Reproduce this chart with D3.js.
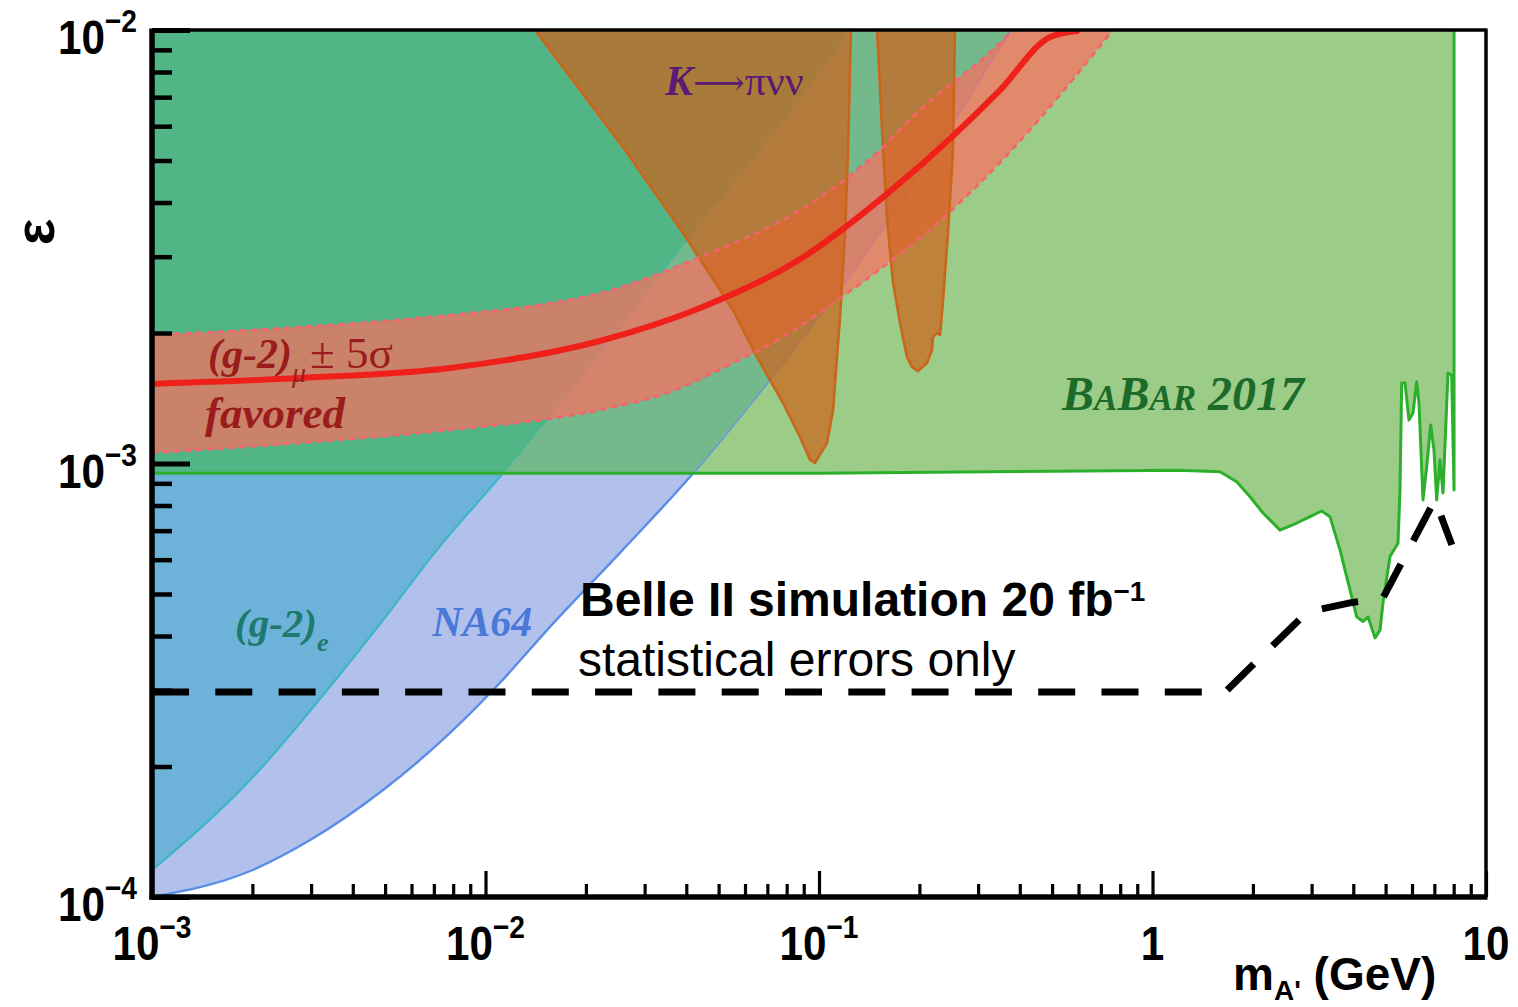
<!DOCTYPE html>
<html><head><meta charset="utf-8">
<script src="https://cdn.jsdelivr.net/npm/d3@7"></script>
<style>html,body{margin:0;padding:0;background:#fff;} svg{display:block;}</style>
</head><body>
<svg id="chart" width="1518" height="1007"></svg>
<script>
// ---------------- data (mass in GeV, epsilon) ----------------
const babarMass = [0.001, 0.1, 0.5, 1.2, 1.594, 1.789, 1.961, 2.145, 2.412, 2.706, 2.967, 3.217, 3.405, 3.649, 3.910, 4.096, 4.278, 4.429, 4.648, 4.811, 4.911, 5.153, 5.446, 5.522, 5.587, 5.716, 5.875, 6.04, 6.197, 6.296, 6.473, 6.64, 6.826, 6.984, 7.115, 7.279, 7.431, 7.692, 7.89, 8.02];
const babarEps  = [9.5e-4, 9.5e-4, 9.6e-4, 9.65e-4, 9.57e-4, 9.08e-4, 8.38e-4, 7.69e-4, 7.02e-4, 7.29e-4, 7.54e-4, 7.77e-4, 7.54e-4, 6.32e-4, 5.11e-4, 4.43e-4, 4.32e-4, 4.43e-4, 3.96e-4, 4.13e-4, 4.77e-4, 6.10e-4, 6.55e-4, 8.69e-4, 1.534e-3, 1.534e-3, 1.26e-3, 1.307e-3, 1.544e-3, 1.379e-3, 8.24e-4, 9.83e-4, 1.227e-3, 1.074e-3, 8.24e-4, 1.019e-3, 8.55e-4, 1.617e-3, 1.6e-3, 8.69e-4];

const na64Mass = [0.001, 0.00197, 0.00298, 0.00493, 0.00783, 0.01105, 0.01561, 0.0258, 0.0410, 0.0699, 0.1265, 0.2228, 0.3739];
const na64Eps  = [1.0e-4, 1.148e-4, 1.353e-4, 1.765e-4, 2.39e-4, 3.12e-4, 4.20e-4, 6.32e-4, 9.31e-4, 1.534e-3, 2.79e-3, 5.29e-3, 1.0e-2];

const g2eMass = [0.001, 0.00197, 0.00335, 0.00493, 0.00715, 0.01129, 0.0216, 0.0391, 0.0666, 0.1213, 0.1230];
const g2eEps  = [1.154e-4, 1.862e-4, 3.0e-4, 4.355e-4, 6.32e-4, 9.51e-4, 1.76e-3, 3.19e-3, 5.29e-3, 9.84e-3, 1.0e-2];

const kpnn1Mass = [0.01407, 0.0262, 0.0391, 0.0552, 0.0652, 0.0780, 0.0877, 0.0940, 0.0973, 0.1057, 0.1102, 0.1156, 0.1197, 0.1222, 0.1247];
const kpnn1Eps  = [1.0e-2, 5.29e-3, 3.40e-3, 2.26e-3, 1.76e-3, 1.379e-3, 1.151e-3, 1.019e-3, 1.003e-3, 1.115e-3, 1.328e-3, 2.18e-3, 3.40e-3, 5.29e-3, 1.0e-2];
const kpnn2Mass = [0.1493, 0.1556, 0.1599, 0.1667, 0.1750, 0.1836, 0.1901, 0.1981, 0.2108, 0.2182, 0.2197, 0.2259, 0.2306, 0.2355, 0.2436, 0.2522, 0.2557];
const kpnn2Eps  = [1.0e-2, 5.29e-3, 3.70e-3, 2.61e-3, 2.11e-3, 1.76e-3, 1.67e-3, 1.634e-3, 1.705e-3, 1.827e-3, 1.96e-3, 2.00e-3, 1.98e-3, 2.38e-3, 3.40e-3, 5.29e-3, 1.0e-2];

const g2muMass = [0.001, 0.00278, 0.00783, 0.0220, 0.0440, 0.0877, 0.175, 0.349, 0.493, 0.594];
const g2muEps  = [1.526e-3, 1.575e-3, 1.661e-3, 1.917e-3, 2.285e-3, 2.96e-3, 4.44e-3, 7.27e-3, 9.63e-3, 9.95e-3];
const g2muHiMass = [0.001, 0.00278, 0.00783, 0.01561, 0.0220, 0.0440, 0.0877, 0.1524, 0.1967, 0.3489, 0.3817];
const g2muHiEps  = [1.98e-3, 2.065e-3, 2.20e-3, 2.345e-3, 2.47e-3, 2.996e-3, 3.84e-3, 5.29e-3, 6.44e-3, 9.33e-3, 1.0e-2];
const g2muLoMass = [0.001, 0.00278, 0.00783, 0.0220, 0.0350, 0.0552, 0.0780, 0.1102, 0.1556, 0.2197, 0.3612, 0.7613];
const g2muLoEps  = [1.057e-3, 1.115e-3, 1.195e-3, 1.328e-3, 1.454e-3, 1.705e-3, 1.96e-3, 2.345e-3, 2.84e-3, 3.51e-3, 5.09e-3, 1.0e-2];

const belleMass = [0.001, 1.65, 2.906, 3.91, 4.91, 7.03, 7.9];
const belleEps  = [2.97e-4, 2.97e-4, 4.54e-4, 4.77e-4, 4.9e-4, 8.24e-4, 6.49e-4];

const xMajorTicks = [1e-3, 1e-2, 1e-1, 1, 10];
const xTickBase = ["10", "10", "10", "1", "10"];
const xTickExp  = ["−3", "−2", "−1", "", ""];
const yMajorTicks = [1e-4, 1e-3, 1e-2];
const yTickBase = ["10", "10", "10"];
const yTickExp  = ["−4", "−3", "−2"];
const decadeMult = [2, 3, 4, 5, 6, 7, 8, 9];

// ---------------- setup ----------------
const L = 152, R = 1486, T = 30, B = 897;
const x = d3.scaleLog().domain([1e-3, 10]).range([L, R]);
const y = d3.scaleLog().domain([1e-4, 1e-2]).range([B, T]);
const svg = d3.select('#chart');
const defs = svg.append('defs');
defs.append('clipPath').attr('id', 'plot').append('rect')
  .attr('x', L).attr('y', T).attr('width', R - L).attr('height', B - T);

const zip = (a, b) => a.map((v, i) => [v, b[i]]);
const lin = d3.line().x(d => x(d[0])).y(d => y(d[1]));
const smooth = d3.line().x(d => x(d[0])).y(d => y(d[1])).curve(d3.curveMonotoneX);

const babarPts = zip(babarMass, babarEps);
const babarPoly = babarPts.concat([[babarMass[babarMass.length - 1], 1e-2], [1e-3, 1e-2]]);
const babarPath = lin(babarPoly) + 'Z';
defs.append('clipPath').attr('id', 'babar').append('path').attr('d', babarPath);

const na64Pts = zip(na64Mass, na64Eps);
const na64Path = smooth(na64Pts) + `L${x(1e-3)},${y(1e-2)}Z`;
const g2ePts = zip(g2eMass, g2eEps);
const g2ePath = smooth(g2ePts) + `L${x(1e-3)},${y(1e-2)}Z`;

const g = svg.append('g').attr('clip-path', 'url(#plot)');

// base regions
g.append('path').attr('d', babarPath).attr('fill', '#9ccd88');
g.append('path').attr('d', na64Path).attr('fill', '#b1c1ec');
g.append('path').attr('d', g2ePath).attr('fill', '#6db3d9');
g.append('path').attr('d', smooth(na64Pts)).attr('fill', 'none').attr('stroke', '#5a8de8').attr('stroke-width', 2.4);
g.append('path').attr('d', smooth(g2ePts)).attr('fill', 'none').attr('stroke', '#3cb6c6').attr('stroke-width', 2.2);
// overlaps with BaBar
const gb = g.append('g').attr('clip-path', 'url(#babar)');
gb.append('path').attr('d', na64Path).attr('fill', '#74b98c');
gb.append('path').attr('d', g2ePath).attr('fill', '#52b586');
gb.append('path').attr('d', smooth(na64Pts)).attr('fill', 'none').attr('stroke', '#7a9fd8').attr('stroke-width', 1.5).attr('opacity', 0.5);
gb.append('path').attr('d', smooth(g2ePts)).attr('fill', 'none').attr('stroke', '#3cb6a6').attr('stroke-width', 1.5).attr('opacity', 0.6);
// BaBar line
g.append('path').attr('d', lin(babarPts.concat([[babarMass[babarMass.length - 1], 1e-2]])))
  .attr('fill', 'none').attr('stroke', '#2cb02c').attr('stroke-width', 3).attr('stroke-linejoin', 'round');

// (g-2)_mu band fill
const hiPts = zip(g2muHiMass, g2muHiEps);
const loPts = zip(g2muLoMass, g2muLoEps);
const bandPath = smooth(hiPts) + `L${x(g2muLoMass[g2muLoMass.length - 1])},${y(1e-2)}` +
  smooth(loPts.slice().reverse()).replace(/^M/, 'L') + 'Z';
g.append('path').attr('d', bandPath).attr('fill', 'rgb(255,108,95)').attr('fill-opacity', 0.7);

// K -> pi nu nu regions
[zip(kpnn1Mass, kpnn1Eps), zip(kpnn2Mass, kpnn2Eps)].forEach(pts => {
  g.append('path').attr('d', lin(pts) + 'Z')
    .attr('fill', 'rgb(206,98,25)').attr('fill-opacity', 0.7)
    .attr('stroke', '#c8661a').attr('stroke-width', 2.6).attr('stroke-linejoin', 'round');
});

// band edges and central line
[hiPts, loPts].forEach(pts => {
  g.append('path').attr('d', smooth(pts)).attr('fill', 'none')
    .attr('stroke', '#f4636e').attr('stroke-width', 2.6).attr('stroke-dasharray', '6,5');
});
g.append('path').attr('d', smooth(zip(g2muMass, g2muEps))).attr('fill', 'none')
  .attr('stroke', '#ee2019').attr('stroke-width', 6).attr('stroke-linecap', 'round');

// Belle II projection
g.append('path').attr('d', lin(zip(belleMass, belleEps))).attr('fill', 'none')
  .attr('stroke', '#000').attr('stroke-width', 7).attr('stroke-dasharray', '37,26.3')
  .attr('stroke-dashoffset', 0).attr('stroke-linejoin', 'miter');

// ---------------- labels inside plot ----------------
const serif = "'Liberation Serif', 'Times New Roman', serif";
const sans = "'Liberation Sans', Arial, Helvetica, sans-serif";

let t = svg.append('text').attr('x', 208).attr('y', 368).attr('font-family', serif).attr('fill', '#9b1c1c').attr('font-size', 42);
t.append('tspan').attr('font-style', 'italic').attr('font-weight', 'bold').text('(g-2)');
t.append('tspan').attr('font-style', 'italic').attr('font-size', 28).attr('dy', 14).text('μ');
t.append('tspan').attr('dy', -14).attr('dx', 4).attr('font-size', 45).text('± 5σ');
svg.append('text').attr('x', 205).attr('y', 428).attr('font-family', serif).attr('fill', '#9b1c1c')
  .attr('font-size', 45).attr('font-style', 'italic').attr('font-weight', 'bold').text('favored');

t = svg.append('text').attr('x', 665).attr('y', 95).attr('font-family', serif).attr('fill', '#5c1a72').attr('font-size', 42);
t.append('tspan').attr('font-style', 'italic').attr('font-weight', 'bold').text('K');
t.append('tspan').attr('font-family', "'DejaVu Serif', serif").attr('font-size', 36).text('⟶');
t.append('tspan').text('πνν');

t = svg.append('text').attr('x', 1062).attr('y', 410).attr('font-family', serif).attr('fill', '#1d6b2a')
  .attr('font-style', 'italic').attr('font-weight', 'bold').attr('font-size', 48);
t.append('tspan').text('B');
t.append('tspan').attr('font-size', 35).text('A');
t.append('tspan').text('B');
t.append('tspan').attr('font-size', 35).text('AR');
t.append('tspan').text(' 2017');

t = svg.append('text').attr('x', 235).attr('y', 637).attr('font-family', serif).attr('fill', '#1e7a6e')
  .attr('font-style', 'italic').attr('font-weight', 'bold').attr('font-size', 41);
t.append('tspan').text('(g-2)');
t.append('tspan').attr('font-size', 26).attr('dy', 14).text('e');

svg.append('text').attr('x', 432).attr('y', 636).attr('font-family', serif).attr('fill', '#4a78d8')
  .attr('font-style', 'italic').attr('font-weight', 'bold').attr('font-size', 42).text('NA64');

t = svg.append('text').attr('x', 580).attr('y', 616).attr('font-family', sans).attr('font-weight', 'bold').attr('font-size', 48).attr('fill', '#000');
t.append('tspan').text('Belle II simulation 20 fb');
t.append('tspan').attr('font-size', 28).attr('dy', -15).text('−1');
svg.append('text').attr('x', 578).attr('y', 676).attr('font-family', sans).attr('font-size', 48).attr('fill', '#000')
  .text('statistical errors only');

// ---------------- axes ----------------
const ax = svg.append('g');
const xMinor = [];
[1e-3, 1e-2, 1e-1, 1].forEach(d => decadeMult.forEach(m => xMinor.push(d * m)));
const yMinor = [];
[1e-4, 1e-3].forEach(d => decadeMult.forEach(m => yMinor.push(d * m)));

function styleAxis(sel, w) {
  sel.select('.domain').remove();
  sel.selectAll('.tick line').attr('stroke', '#000').attr('stroke-width', w);
  sel.selectAll('.tick text').remove();
}
ax.append('g').attr('transform', `translate(0,${B})`)
  .call(d3.axisBottom(x).tickValues(xMajorTicks).tickSize(-26).tickFormat(''))
  .call(s => styleAxis(s, 3.2));
ax.append('g').attr('transform', `translate(0,${B})`)
  .call(d3.axisBottom(x).tickValues(xMinor).tickSize(-13).tickFormat(''))
  .call(s => styleAxis(s, 3.2));
ax.append('g').attr('transform', `translate(${L},0)`)
  .call(d3.axisLeft(y).tickValues(yMajorTicks).tickSize(-38).tickFormat(''))
  .call(s => styleAxis(s, 5));
ax.append('g').attr('transform', `translate(${L},0)`)
  .call(d3.axisLeft(y).tickValues(yMinor).tickSize(-20).tickFormat(''))
  .call(s => styleAxis(s, 4.5));

// frame
ax.append('line').attr('x1', L).attr('x2', R).attr('y1', T).attr('y2', T).attr('stroke', '#000').attr('stroke-width', 3.5);
ax.append('line').attr('x1', R).attr('x2', R).attr('y1', T - 1.5).attr('y2', B).attr('stroke', '#000').attr('stroke-width', 3.5);
ax.append('line').attr('x1', L - 2.5).attr('x2', R + 1.5).attr('y1', B).attr('y2', B).attr('stroke', '#000').attr('stroke-width', 5.5);
ax.append('line').attr('x1', L).attr('x2', L).attr('y1', T - 1.5).attr('y2', B + 2.5).attr('stroke', '#000').attr('stroke-width', 5.5);

// tick labels
yMajorTicks.forEach((v, i) => {
  const tt = ax.append('text').attr('transform', `translate(137,${y(v) + 24}) scale(0.88,1)`)
    .attr('text-anchor', 'end').attr('font-family', sans).attr('font-weight', 'bold').attr('font-size', 48);
  tt.append('tspan').text(yTickBase[i]);
  tt.append('tspan').attr('font-size', 32).attr('dy', -22).text(yTickExp[i]);
});
xMajorTicks.forEach((v, i) => {
  const tt = ax.append('text').attr('transform', `translate(${x(v)},960) scale(0.88,1)`)
    .attr('text-anchor', 'middle').attr('font-family', sans).attr('font-weight', 'bold').attr('font-size', 48);
  tt.append('tspan').text(xTickBase[i]);
  if (xTickExp[i]) tt.append('tspan').attr('font-size', 32).attr('dy', -22).text(xTickExp[i]);
});

// axis titles
t = ax.append('text').attr('x', 1233).attr('y', 990).attr('font-family', sans).attr('font-weight', 'bold').attr('font-size', 46);
t.append('tspan').text('m');
t.append('tspan').attr('font-size', 28).attr('dy', 10).text("A'");
t.append('tspan').attr('dy', -10).text(' (GeV)');
ax.append('text').attr('transform', 'translate(54,232) rotate(-90)').attr('text-anchor', 'middle')
  .attr('font-family', sans).attr('font-weight', 'bold').attr('font-size', 56).text('ε');
</script>
</body></html>
